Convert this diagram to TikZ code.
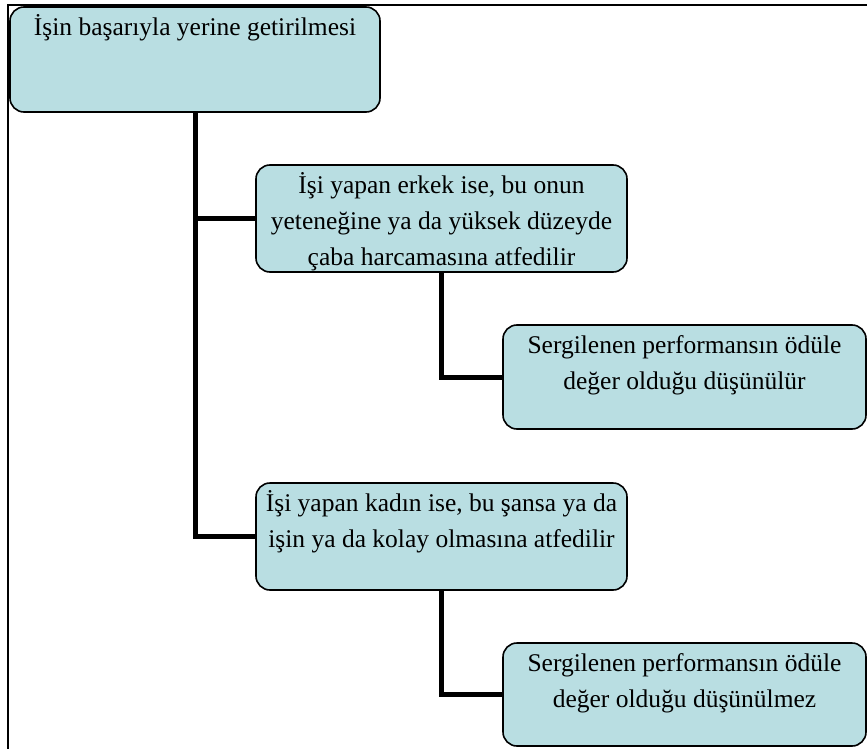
\documentclass[tikz,border=0pt]{standalone}
\usepackage{fontspec}
\setmainfont{Liberation Serif}
\usepackage{tikz}
\definecolor{boxfill}{RGB}{185,222,226}
\newcommand{\boxtext}[3]{\parbox[c][#2pt][t]{#1pt}{\centering\vspace*{3pt}\strut #3}}

\begin{document}
\begin{tikzpicture}[x=1pt, y=-1pt,
    chartbox/.style={draw, line width=1.6pt, rounded corners=14pt, fill=boxfill,
        inner sep=0pt, font=\fontsize{25.5pt}{36pt}\selectfont},
    link/.style={line width=5pt}]
    \useasboundingbox (0,0) rectangle (867,749);
    \clip (0,0) rectangle (867,749);
    \draw[line width=1.5pt] (8,5) rectangle (900,790);

    % the outcome
    \node[chartbox] (basari) at (195,59.5) {\boxtext{370}{105}{İşin başarıyla yerine getirilmesi}};

    % done by a man
    \node[chartbox] (erkek) at (441.5,218.5) {\boxtext{371}{107}{İşi yapan erkek ise, bu onun\\
        yeteneğine ya da yüksek düzeyde\\ çaba harcamasına atfedilir}};
    \node[chartbox] (odul) at (684.5,377) {\boxtext{363}{104}{Sergilenen performansın ödüle\\
        değer olduğu düşünülür}};

    % done by a woman
    \node[chartbox] (kadin) at (441.5,536.5) {\boxtext{371}{107}{İşi yapan kadın ise, bu şansa ya da\\
        işin ya da kolay olmasına atfedilir}};
    \node[chartbox] (odulyok) at (684.5,694.5) {\boxtext{363}{103}{Sergilenen performansın ödüle\\
        değer olduğu düşünülmez}};

    % links
    \draw[link] (basari.south) |- (kadin.west);
    \draw[link] (basari.south |- erkek.west) -- (erkek.west);
    \draw[link] (erkek.south) |- (odul.west);
    \draw[link] (kadin.south) |- (odulyok.west);
\end{tikzpicture}
\end{document}
